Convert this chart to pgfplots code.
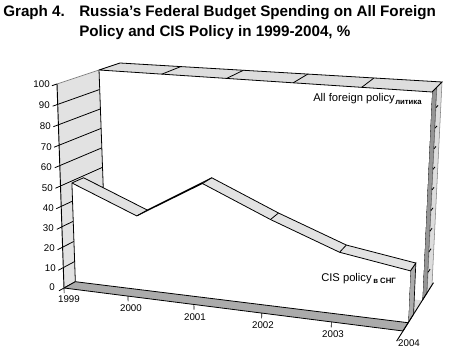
\documentclass[border=0pt]{standalone}
\usepackage{pgfplots}
\pgfplotsset{compat=1.18}
\usepackage{fontspec}
\setmainfont{Liberation Sans}
\definecolor{wall}{HTML}{E2E2E2}
\definecolor{band}{HTML}{ABABAB}
\definecolor{dk}{HTML}{959595}
\definecolor{lt}{HTML}{DDDDDD}
\pgfplotsset{
 /pgf/declare function={
  uu(\t)=0.93*(\t-1999)/5+0.07*((\t-1999)/5)^2;
  lrp(\a,\b,\c)=\a+(\b-\a)*\c;
  pxa(\t,\w)=lrp(64-7*\w,403+9*\w,uu(\t));
  pxb(\t,\w)=lrp(127-7*\w,432+10*\w,uu(\t));
  pya(\t,\w)=lrp(288-204*\w,331-219*\w,uu(\t));
  pyb(\t,\w)=lrp(253-190*\w,285-203*\w,uu(\t));
  px(\t,\w,\e)=lrp(pxa(\t,\w/100),pxb(\t,\w/100),\e);
  py(\t,\w,\e)=lrp(pya(\t,\w/100),pyb(\t,\w/100),\e);
 },
 /pgfplots/table/geo/.style={row sep=\\,
  x expr={px(\thisrow{yr},\thisrow{val},\thisrow{dp})},
  y expr={py(\thisrow{yr},\thisrow{val},\thisrow{dp})}},
}
\newcommand\seg[7][black,line width=0.6pt]{\addplot[#1] table[geo]{yr val dp\\ #2 #3 #4\\ #5 #6 #7\\};}
\begin{document}
\begin{tikzpicture}
\begin{axis}[width=337.5pt,height=264pt,scale only axis,axis lines=none,
 xmin=0,xmax=450,ymin=0,ymax=352,y dir=reverse,clip=false,enlargelimits=false]
\path (axis cs:0,0) rectangle (axis cs:450,352);
% floor
\addplot[fill=lt,draw=none] table[geo]{yr val dp\\ 1999 0 0\\ 2004 0 0\\ 2004 0 1\\ 1999 0 1\\ 1999 0 0\\};
% left wall
\addplot[fill=wall,draw=none] table[geo]{yr val dp\\ 1999 0 0\\ 1999 100 0\\ 1999 100 0.667\\ 1999 0 0.667\\ 1999 0 0\\};
\seg[gray,line width=0.5pt]{1999}{100}{0}{1999}{100}{0.667}
\seg{1999}{90}{-0.08}{1999}{90}{0.667}
\seg{1999}{80}{-0.08}{1999}{80}{0.667}
\seg{1999}{70}{-0.08}{1999}{70}{0.667}
\seg{1999}{60}{-0.08}{1999}{60}{0.667}
\seg{1999}{50}{-0.08}{1999}{50}{0.667}
\seg{1999}{40}{-0.08}{1999}{40}{0.667}
\seg{1999}{30}{-0.08}{1999}{30}{0.667}
\seg{1999}{20}{-0.08}{1999}{20}{0.667}
\seg{1999}{10}{-0.08}{1999}{10}{0.667}
\seg{1999}{100}{-0.08}{1999}{100}{0}
\seg{1999}{0}{-0.08}{1999}{0}{0.667}
\seg[black,line width=0.7pt]{1999}{0}{0}{1999}{100}{0}
% All foreign policy: end face
\addplot[fill=dk,draw=black,line width=0.5pt] table[geo]{yr val dp\\ 2004 0 0.667\\ 2004 100 0.667\\ 2004 100 0.83\\ 2004 0 0.83\\ 2004 0 0.667\\};
\addplot[fill=lt,draw=gray,line width=0.4pt] table[geo]{yr val dp\\ 2004 0 0.83\\ 2004 100 0.83\\ 2004 100 1\\ 2004 0 1\\ 2004 0 0.83\\};
\seg{2004}{90}{0.83}{2004}{90}{0.9}
\seg{2004}{80}{0.83}{2004}{80}{0.9}
\seg{2004}{70}{0.83}{2004}{70}{0.9}
\seg{2004}{60}{0.83}{2004}{60}{0.9}
\seg{2004}{50}{0.83}{2004}{50}{0.9}
\seg{2004}{40}{0.83}{2004}{40}{0.9}
\seg{2004}{30}{0.83}{2004}{30}{0.9}
\seg{2004}{20}{0.83}{2004}{20}{0.9}
\seg{2004}{10}{0.83}{2004}{10}{0.9}
% All foreign policy: front face and ribbon
\addplot[fill=white,draw=none] table[geo]{yr val dp\\ 1999 0 0.667\\ 1999 100 0.667\\ 2000 100 0.667\\ 2001 100 0.667\\ 2002 100 0.667\\ 2003 100 0.667\\ 2004 100 0.667\\ 2004 0 0.667\\ 1999 0 0.667\\};
\seg{1999}{0}{0.667}{1999}{100}{0.667}
\addplot[fill=lt,draw=black,line width=0.6pt] table[geo]{yr val dp\\ 1999 100 0.667\\ 2000 100 0.667\\ 2001 100 0.667\\ 2002 100 0.667\\ 2003 100 0.667\\ 2004 100 0.667\\ 2004 100 1\\ 2003 100 1\\ 2002 100 1\\ 2001 100 1\\ 2000 100 1\\ 1999 100 1\\ 1999 100 0.667\\};
\seg{2000}{100}{0.667}{2000}{100}{1}
\seg{2001}{100}{0.667}{2001}{100}{1}
\seg{2002}{100}{0.667}{2002}{100}{1}
\seg{2003}{100}{0.667}{2003}{100}{1}
% CIS policy: end face
\addplot[fill=band,draw=black,line width=0.5pt] table[geo]{yr val dp\\ 2004 0 0.18\\ 2004 24 0.18\\ 2004 24 0.365\\ 2004 0 0.365\\ 2004 0 0.18\\};
% CIS policy: front face and ribbon
\addplot[fill=white,draw=none] table[geo]{yr val dp\\ 1999 0 0.18\\ 1999 49 0.18\\ 2000 36 0.18\\ 2001 55 0.18\\ 2002 41 0.18\\ 2003 29 0.18\\ 2004 24 0.18\\ 2004 0 0.18\\ 1999 0 0.18\\};
\seg{1999}{0}{0.18}{1999}{49}{0.18}
\addplot[fill=wall,draw=black,line width=0.6pt] table[geo]{yr val dp\\ 1999 49 0.18\\ 2000 36 0.18\\ 2001 55 0.18\\ 2002 41 0.18\\ 2003 29 0.18\\ 2004 24 0.18\\ 2004 24 0.365\\ 2003 29 0.365\\ 2002 41 0.365\\ 2001 55 0.365\\ 2000 36 0.365\\ 1999 49 0.365\\ 1999 49 0.18\\};
\seg{2000}{36}{0.18}{2000}{36}{0.365}
\seg{2001}{55}{0.18}{2001}{55}{0.365}
\seg{2002}{41}{0.18}{2002}{41}{0.365}
\seg{2003}{29}{0.18}{2003}{29}{0.365}
% front floor band
\addplot[fill=band,draw=black,line width=0.6pt] table[geo]{yr val dp\\ 1999 0 0\\ 2004 0 0\\ 2004 0 0.18\\ 1999 0 0.18\\ 1999 0 0\\};
% right floor edge and year ticks
\seg[black,line width=0.7pt]{2004}{0}{-0.22}{2004}{0}{1.05}
\seg[black,line width=0.5pt]{2000}{0}{0}{2000}{-2.5}{0}
\seg[black,line width=0.5pt]{2001}{0}{0}{2001}{-2.5}{0}
\seg[black,line width=0.5pt]{2002}{0}{0}{2002}{-2.5}{0}
\seg[black,line width=0.5pt]{2003}{0}{0}{2003}{-2.5}{0}
\seg[black,line width=0.5pt]{1999}{0}{0}{1999}{-2.5}{0}
% tick labels
\tikzset{lab/.style={font=\fontsize{7.3pt}{8pt}\selectfont,inner sep=0pt}}
\node[lab,anchor=east] at (axis cs:50,84) {100};
\node[lab,anchor=east] at (axis cs:50,105) {90};
\node[lab,anchor=east] at (axis cs:51,126) {80};
\node[lab,anchor=east] at (axis cs:52,147) {70};
\node[lab,anchor=east] at (axis cs:52,167) {60};
\node[lab,anchor=east] at (axis cs:53,188) {50};
\node[lab,anchor=east] at (axis cs:54,208) {40};
\node[lab,anchor=east] at (axis cs:54,228) {30};
\node[lab,anchor=east] at (axis cs:55,248) {20};
\node[lab,anchor=east] at (axis cs:56,268) {10};
\node[lab,anchor=east] at (axis cs:55,287) {0};
\node[lab] at (axis cs:69,299) {1999};
\node[lab] at (axis cs:131,308) {2000};
\node[lab] at (axis cs:195,317) {2001};
\node[lab] at (axis cs:263,325) {2002};
\node[lab] at (axis cs:333,334) {2003};
\node[lab] at (axis cs:409,343) {2004};
% labels
\tikzset{ser/.style={font=\fontsize{8.4pt}{10pt}\selectfont,inner sep=0pt,anchor=base west},
 sm/.style={font=\fontsize{5.8pt}{7pt}\bfseries\selectfont,inner sep=0pt,anchor=base west}}
\node[ser] at (axis cs:313,102) {All foreign policy};
\node[sm] at (axis cs:395,105) {литика};
\node[ser] at (axis cs:321,282) {CIS policy};
\node[sm] at (axis cs:373,284) {в СНГ};
% title
\tikzset{ttl/.style={font=\fontsize{11.4pt}{12pt}\bfseries\selectfont,inner sep=0pt,anchor=base west}}
\node[ttl] at (axis cs:3,17) {Graph 4.};
\node[ttl] at (axis cs:79,17) {Russia’s Federal Budget Spending on All Foreign};
\node[ttl] at (axis cs:79,37) {Policy and CIS Policy in 1999-2004, \%};
\end{axis}
\end{tikzpicture}
\end{document}
